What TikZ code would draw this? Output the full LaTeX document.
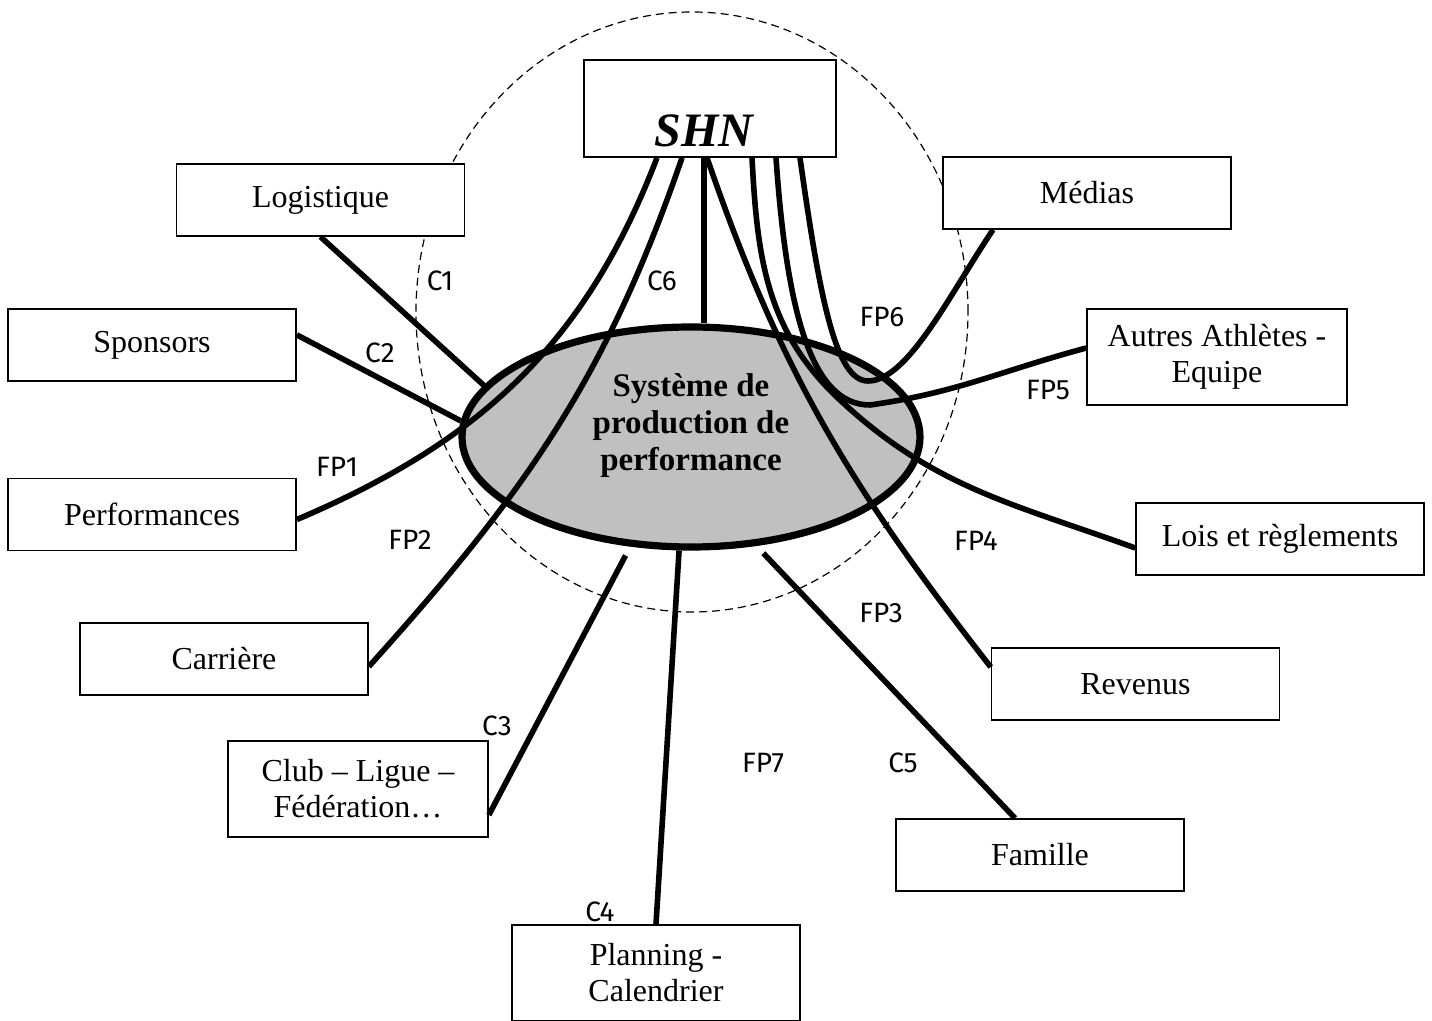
\documentclass[tikz,border=0pt]{standalone}
\usepackage{fontspec}
\setmainfont{Liberation Serif}
\newfontfamily\lblfont{Fira Sans}
\usetikzlibrary{shapes.geometric}
\definecolor{silverfill}{HTML}{C0C0C0}
\begin{document}
\begin{tikzpicture}[x=0.5pt,y=-0.5pt,
  box/.style={draw, fill=white, line width=0.8pt, minimum width=144pt, minimum height=36pt,
    inner sep=0pt, font=\fontsize{16}{18}\selectfont, align=center},
  boxtwo/.style={box, minimum width=130pt, minimum height=48pt},
  link/.style={line width=2.8pt},
  lbl/.style={font=\lblfont\fontsize{14}{16}\selectfont, inner sep=0pt}
]
\useasboundingbox (0,0) rectangle (1432,1021);

% dashed boundary
\draw[line width=0.6pt, dash pattern=on 4pt off 2.5pt] (692,312) ellipse [x radius=138pt, y radius=150pt];

% central system
\node[ellipse, draw, fill=silverfill, line width=3.6pt, minimum width=229pt, minimum height=110pt, inner sep=0pt] (sys) at (691,437) {};

% boxes
\node[box, minimum width=126pt, minimum height=48.5pt] (shn) at (710,108.5) {};
\node[box] (logi) at (320.5,200) {Logistique};
\node[box] (med) at (1087,193) {Médias};
\node[box] (spon) at (152,345) {Sponsors};
\node[boxtwo] (autres) at (1217,357) {Autres Athlètes -\\Equipe};
\node[box] (perf) at (152,514.5) {Performances};
\node[box] (lois) at (1280,539) {Lois et règlements};
\node[box] (carr) at (224,659) {Carrière};
\node[box] (rev) at (1135.5,684) {Revenus};
\node[boxtwo] (club) at (358,789) {Club – Ligue –\\Fédération…};
\node[box] (fam) at (1040,855) {Famille};
\node[box, minimum height=48pt] (plan) at (656,973) {Planning -\\Calendrier};

% connectors
\draw[link] (logi.south) -- (sys.166);
\draw[link] (spon.4) -- (sys.176.5);
\draw[link] (perf.-2) to[out=23,in=-111] ([xshift=-26.5pt]shn.south);
\draw[link] (carr.-3) to[out=48,in=-109] ([xshift=-14pt]shn.south);
\draw[link] ([xshift=-3pt]shn.south) -- ([xshift=-3pt]shn.south |- sys.north);
\draw[link] ([xshift=-1.5pt]shn.south) to[out=-71,in=128] ([yshift=8.5pt]rev.west);
\draw[link] ([xshift=21pt]shn.south) to[out=-87,in=137] (840,400) to[out=-43,in=160] ([yshift=-4.5pt]lois.west);
\draw[link] ([xshift=33pt]shn.south) to[out=-86,in=180,out distance=75pt,in distance=30pt] (870,405)
  to[out=8,in=195] ([yshift=4.5pt]autres.west);
\draw[link] ([xshift=45pt]shn.south) to[out=-82,in=180,out distance=72pt,in distance=16pt] (868,381)
  to[out=0,in=-124,out distance=20pt,in distance=38pt] ([xshift=-47pt]med.south);
\draw[link, shorten <=5pt] (sys.-119) -- ([yshift=-13pt]club.east);
\draw[link] (sys.-96) -- (plan.north);
\draw[link, shorten <=5pt] (sys.-59) -- ([xshift=-12.5pt]fam.north);

% texts on top
\node[font=\bfseries\fontsize{16.5}{18.5}\selectfont, align=center, inner sep=0pt] (systxt) at (691,426) {Système de\\production de\\performance};
\node[font=\bfseries\itshape\fontsize{24}{28}\selectfont, anchor=base, inner sep=0pt] (shntxt) at (704,147) {SHN};

% labels
\node[lbl] (lc1) at (440,281) {C1};
\node[lbl] (lc6) at (662,281) {C6};
\node[lbl] (lc2) at (380,353) {C2};
\node[lbl] (lfp1) at (337,467) {FP1};
\node[lbl] (lfp2) at (410,540) {FP2};
\node[lbl] (lfp6) at (882,317) {FP6};
\node[lbl] (lfp5) at (1048,390) {FP5};
\node[lbl] (lfp4) at (976,541) {FP4};
\node[lbl] (lfp3) at (881,613) {FP3};
\node[lbl] (lc3) at (497,726) {C3};
\node[lbl] (lfp7) at (763,763) {FP7};
\node[lbl] (lc5) at (903,763) {C5};
\node[lbl] (lc4) at (600,912) {C4};
\end{tikzpicture}
\end{document}
